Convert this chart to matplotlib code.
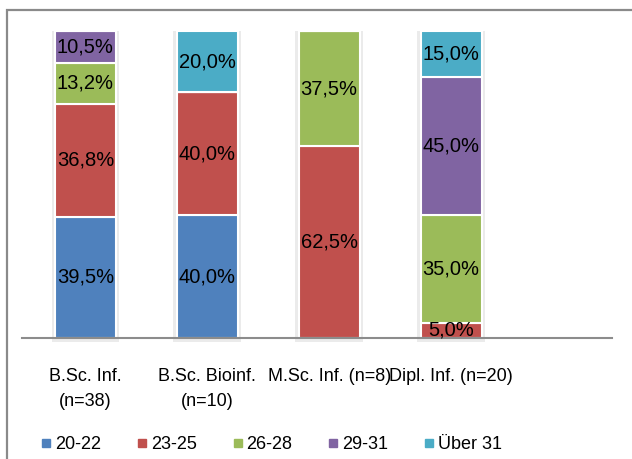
import matplotlib.pyplot as plt
from matplotlib.patches import Rectangle
import numpy as np

plt.rcParams['font.family'] = ['Liberation Sans', 'DejaVu Sans']

# Altersverteilung je Studiengang (Anteile in %)
studiengaenge = ['B.Sc. Inf.\n(n=38)', 'B.Sc. Bioinf.\n(n=10)',
                 'M.Sc. Inf. (n=8)', 'Dipl. Inf. (n=20)']
altersgruppen = ['20-22', '23-25', '26-28', '29-31', 'Über 31']
anteil_20_22 = [39.5, 40.0, 0.0, 0.0]
anteil_23_25 = [36.8, 40.0, 62.5, 5.0]
anteil_26_28 = [13.2, 0.0, 37.5, 35.0]
anteil_29_31 = [10.5, 0.0, 0.0, 45.0]
anteil_ueber_31 = [0.0, 20.0, 0.0, 15.0]

serien = [anteil_20_22, anteil_23_25, anteil_26_28, anteil_29_31, anteil_ueber_31]
farben = ['#4F81BD', '#C0504D', '#9BBB59', '#8064A2', '#4BACC6']

fig = plt.figure(figsize=(6.32, 4.59), dpi=100)
ax = fig.add_axes([0.0348, 0.2636, 0.9336, 0.6689])

x = np.arange(len(studiengaenge))
summe = np.sum(serien, axis=0)

# leichter Schatten hinter den Saeulen
ax.bar(x, summe + 1.2, width=0.555, bottom=-1.2, color='#ebebeb',
       linewidth=0, zorder=0.5, clip_on=False)

bottom = np.zeros(len(studiengaenge))
for name, werte, farbe in zip(altersgruppen, serien, farben):
    werte = np.array(werte)
    bars = ax.bar(x, werte, width=0.5, bottom=bottom, color=farbe,
                  edgecolor='white', linewidth=1.5, label=name, zorder=2)
    for b, w, y0 in zip(bars, werte, bottom):
        if w > 0:
            ax.text(b.get_x() + b.get_width() / 2, y0 + w / 2,
                    f'{w:.1f}%'.replace('.', ','), zorder=4,
                    ha='center', va='center', fontsize=14.5, color='black')
    bottom += werte

ax.set_ylim(0, 100)
ax.set_xlim(-0.52, 4.32)
ax.set_xticks(x)
ax.set_xticklabels(studiengaenge, fontsize=13, linespacing=1.6, va='top')
ax.tick_params(axis='x', length=0, pad=21.5)
ax.set_yticks([])
for s in ['top', 'right', 'left']:
    ax.spines[s].set_visible(False)
ax.spines['bottom'].set_color('#8c8c8c')
ax.spines['bottom'].set_linewidth(1.5)
ax.spines['bottom'].set_zorder(3)

# Legende unten mit kleinen quadratischen Markern
handles = [plt.Line2D([], [], marker='s', linestyle='none', markersize=5.5,
                      color=f) for f in farben]
fig.legend(handles, altersgruppen, loc='center', ncol=5,
           bbox_to_anchor=(0.428, 0.031), frameon=False, fontsize=13,
           handletextpad=0.1, columnspacing=1.85, handlelength=0.8)

# Rahmen um die Grafik
fig.patches.append(Rectangle((7 / 632, -0.1), 1.2, 1.1 - 10 / 459,
                             transform=fig.transFigure, fill=False,
                             edgecolor='#8a8a8a', linewidth=1.6))

plt.savefig('out.png', dpi=100)
